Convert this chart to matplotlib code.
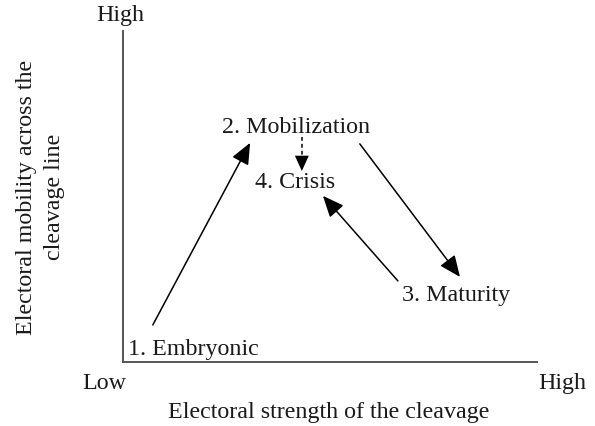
import matplotlib
matplotlib.use("Agg")
import matplotlib.pyplot as plt

# ---- data -------------------------------------------------------------
stages = ["1. Embryonic", "2. Mobilization", "3. Maturity", "4. Crisis"]
stage_x = [1.69, 4.18, 8.04, 4.15]
stage_y = [0.42, 7.10, 2.05, 5.44]

arrow_start_x = [0.72, 5.72, 6.64, 4.32]
arrow_start_y = [1.12, 6.59, 2.45, 6.80]
arrow_end_x = [3.07, 8.14, 4.83, 4.32]
arrow_end_y = [6.62, 2.57, 5.02, 5.77]
arrow_dashed = [False, False, False, True]

x_label = "Electoral strength of the cleavage"
y_label = "Electoral mobility across the\ncleavage line"
low_label = "Low"
high_label = "High"

# ---- figure -----------------------------------------------------------
plt.rcParams['font.family'] = ['Liberation Serif', 'DejaVu Serif']
FS = 17.3
TXT = "#1a1a1a"

fig = plt.figure(figsize=(5.95, 4.27), dpi=100)
fig.patch.set_facecolor("white")
ax = fig.add_axes([123 / 595, 1 - 363 / 427, 414 / 595, 331 / 427])
ax.set_xlim(0, 10)
ax.set_ylim(0, 10)
ax.set_facecolor("white")
for s in ("top", "right"):
    ax.spines[s].set_visible(False)
for s in ("left", "bottom"):
    ax.spines[s].set_color("#555555")
    ax.spines[s].set_linewidth(1.4)
ax.set_xticks([])
ax.set_yticks([])

# stage labels
for name, x, y in zip(stages, stage_x, stage_y):
    ax.text(x, y, name, fontsize=FS, ha="center", va="center", color=TXT)

# arrows
head = "-|>,head_length=0.65,head_width=0.28"
for x0, y0, x1, y1, dashed in zip(arrow_start_x, arrow_start_y,
                                  arrow_end_x, arrow_end_y, arrow_dashed):
    if dashed:
        # dashed shaft, solid head
        ax.plot([x0, x1], [y0, y1], color="black", lw=1.1,
                linestyle=(0, (2.5, 2)))
        fx = x1 + (x0 - x1) * 0.3
        fy = y1 + (y0 - y1) * 0.3
        ax.annotate("", xy=(x1, y1), xytext=(fx, fy),
                    arrowprops=dict(arrowstyle="-|>,head_length=0.55,head_width=0.25",
                                    color="black", lw=0.01, mutation_scale=20,
                                    shrinkA=0, shrinkB=0))
    else:
        ax.annotate("", xy=(x1, y1), xytext=(x0, y0),
                    arrowprops=dict(arrowstyle=head, color="black", lw=1.1,
                                    mutation_scale=20, shrinkA=0, shrinkB=0))

# axis end labels
ax.text(-0.07, 10.51, high_label, fontsize=FS, ha="center", va="center",
        clip_on=False, color=TXT)
ax.text(-0.46, -0.63, low_label, fontsize=FS, ha="center", va="center",
        clip_on=False, color=TXT)
ax.text(10.6, -0.63, high_label, fontsize=FS, ha="center", va="center",
        clip_on=False, color=TXT)

# axis titles
ax.text(4.98, -1.51, x_label, fontsize=FS, ha="center", va="center",
        clip_on=False, color=TXT)
ax.text(-2.0, 5.01, y_label, fontsize=FS, ha="center", va="center",
        rotation=90, multialignment="center", linespacing=1.45,
        clip_on=False, color=TXT)

fig.savefig("out.png", dpi=100, facecolor="white")
